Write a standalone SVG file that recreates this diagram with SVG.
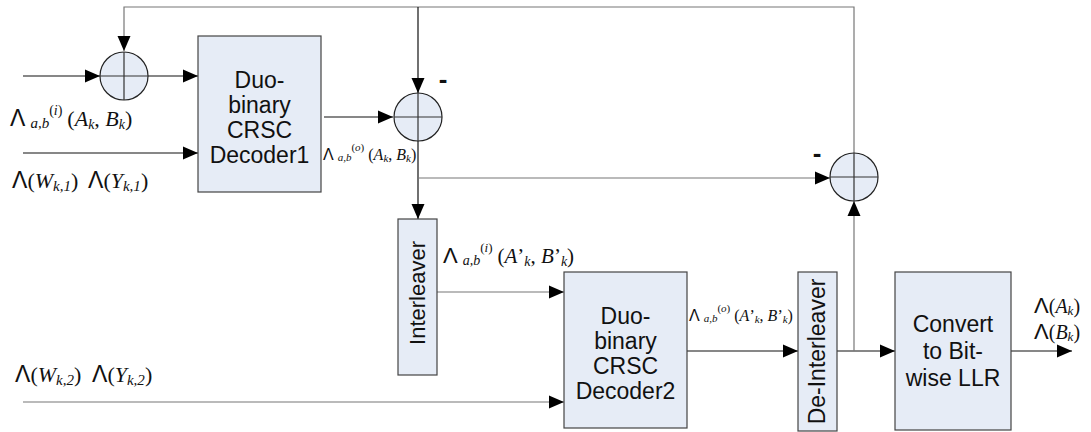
<svg xmlns="http://www.w3.org/2000/svg" width="1091" height="432" viewBox="0 0 1091 432">
<style>
.box{fill:#e6ecf6;stroke:#444;stroke-width:1.2}
.sum{fill:#e6ecf6;stroke:#222;stroke-width:1.2}
.cross{stroke:#333;stroke-width:1.2}
.t{font-family:"Liberation Sans",Arial,sans-serif;font-size:23px;fill:#111;text-anchor:middle}
.c{fill:none;stroke:#111;stroke-width:1.2}
.g{stroke:#777}
.m{font-family:"Liberation Serif","Times New Roman",serif;fill:#111}
.L{font-family:"Liberation Sans",Arial,sans-serif}
.i{font-style:italic}
.minus{font-family:"Liberation Sans",Arial,sans-serif;font-weight:bold;font-size:26px;fill:#111;text-anchor:middle}
</style>
<defs>
<marker id="ar" markerUnits="userSpaceOnUse" markerWidth="16" markerHeight="14" refX="15" refY="7" orient="auto">
<path d="M0,0.5 L15,7 L0,13.5 Z" fill="#000"/>
</marker>
</defs>
<rect width="1091" height="432" fill="#fff"/>

<g id="connectors">
<path class="c g" d="M854,153 V7 H124 V51" marker-end="url(#ar)"/>
<path class="c" d="M418,7 V93" marker-end="url(#ar)"/>
<path class="c" d="M23,76 H100" marker-end="url(#ar)"/>
<path class="c" d="M148,76 H198" marker-end="url(#ar)"/>
<path class="c" d="M23,153 H198" marker-end="url(#ar)"/>
<path class="c" d="M324,117 H393" marker-end="url(#ar)"/>
<path class="c" d="M418,141 V219" marker-end="url(#ar)"/>
<path class="c g" d="M418,178 H830" marker-end="url(#ar)"/>
<path class="c g" d="M437,292 H564" marker-end="url(#ar)"/>
<path class="c g" d="M23,402 H564" marker-end="url(#ar)"/>
<path class="c" d="M687,351 H798" marker-end="url(#ar)"/>
<path class="c" d="M837,351 H895" marker-end="url(#ar)"/>
<path class="c g" d="M854,351 V201" marker-end="url(#ar)"/>
<path class="c" d="M1011,351 H1072" marker-end="url(#ar)"/>
</g>

<g id="sum1">
<circle class="sum" cx="124" cy="76" r="24"/>
<path class="cross" d="M100,76 H148 M124,52 V100"/>
</g>
<g id="sum2">
<circle class="sum" cx="418" cy="117" r="24"/>
<path class="cross" d="M394,117 H442 M418,93 V141"/>
<text class="minus" x="443" y="88">-</text>
</g>
<g id="sum3">
<circle class="sum" cx="854" cy="177" r="24"/>
<path class="cross" d="M830,177 H878 M854,153 V201"/>
<text class="minus" x="817" y="162">-</text>
</g>

<g id="decoder1">
<rect class="box" x="198" y="36" width="123" height="156"/>
<text class="t" x="259.5" y="88">Duo-</text>
<text class="t" x="259.5" y="113">binary</text>
<text class="t" x="259.5" y="138">CRSC</text>
<text class="t" x="259.5" y="163">Decoder1</text>
</g>

<g id="interleaver">
<rect class="box" x="398" y="219" width="39" height="156"/>
<text class="t" transform="translate(425,293) rotate(-90)" style="font-size:22px">Interleaver</text>
</g>

<g id="decoder2">
<rect class="box" x="564" y="272" width="123" height="156"/>
<text class="t" x="625.5" y="324">Duo-</text>
<text class="t" x="625.5" y="349">binary</text>
<text class="t" x="625.5" y="374">CRSC</text>
<text class="t" x="625.5" y="399">Decoder2</text>
</g>

<g id="deinterleaver">
<rect class="box" x="798" y="272" width="39" height="159"/>
<text class="t" transform="translate(825,351.5) rotate(-90)">De-Interleaver</text>
</g>

<g id="convert">
<rect class="box" x="895" y="272" width="116" height="158"/>
<text class="t" x="953" y="332">Convert</text>
<text class="t" x="953" y="359">to Bit-</text>
<text class="t" x="953" y="386">wise LLR</text>
</g>

<g id="labels">
<text class="m" x="10" y="126" font-size="22"><tspan class="L" font-size="23">Λ</tspan><tspan class="i" font-size="15" dx="5" dy="2">a,b</tspan><tspan font-size="14" dy="-13">(<tspan class="i">i</tspan>)</tspan><tspan dx="5" dy="11">(</tspan><tspan class="i">A</tspan><tspan class="i" font-size="14" dy="3">k</tspan><tspan dy="-3">, </tspan><tspan class="i">B</tspan><tspan class="i" font-size="14" dy="3">k</tspan><tspan dy="-3">)</tspan></text>

<text class="m" x="12" y="188" font-size="22"><tspan class="L" font-size="23">Λ</tspan>(<tspan class="i">W</tspan><tspan class="i" font-size="15" dy="3">k,1</tspan><tspan dy="-3">)</tspan></text>
<text class="m" x="88" y="188" font-size="22"><tspan class="L" font-size="23">Λ</tspan>(<tspan class="i">Y</tspan><tspan class="i" font-size="15" dy="3">k,1</tspan><tspan dy="-3">)</tspan></text>

<text class="m" x="323" y="160" font-size="16"><tspan class="L" font-size="16">Λ</tspan><tspan class="i" font-size="11" dx="4" dy="1">a,b</tspan><tspan font-size="11" dy="-10">(<tspan class="i">o</tspan>)</tspan><tspan dx="4" dy="9">(</tspan><tspan class="i">A</tspan><tspan class="i" font-size="11" dy="2">k</tspan><tspan dy="-2">, </tspan><tspan class="i">B</tspan><tspan class="i" font-size="11" dy="2">k</tspan><tspan dy="-2">)</tspan></text>

<text class="m" x="443" y="263" font-size="21"><tspan class="L" font-size="22">Λ</tspan><tspan class="i" font-size="14" dx="5" dy="2">a,b</tspan><tspan font-size="13" dy="-13">(<tspan class="i">i</tspan>)</tspan><tspan dx="5" dy="11">(</tspan><tspan class="i">A</tspan>’<tspan class="i" font-size="14" dy="3">k</tspan><tspan dy="-3">, </tspan><tspan class="i">B</tspan>’<tspan class="i" font-size="14" dy="3">k</tspan><tspan dy="-3">)</tspan></text>

<text class="m" x="689" y="321" font-size="16"><tspan class="L" font-size="16">Λ</tspan><tspan class="i" font-size="11" dx="4" dy="1">a,b</tspan><tspan font-size="11" dy="-10">(<tspan class="i">o</tspan>)</tspan><tspan dx="4" dy="9">(</tspan><tspan class="i">A</tspan>’<tspan class="i" font-size="11" dy="2">k</tspan><tspan dy="-2">, </tspan><tspan class="i">B</tspan>’<tspan class="i" font-size="11" dy="2">k</tspan><tspan dy="-2">)</tspan></text>

<text class="m" x="15" y="382" font-size="22"><tspan class="L" font-size="23">Λ</tspan>(<tspan class="i">W</tspan><tspan class="i" font-size="15" dy="3">k,2</tspan><tspan dy="-3">)</tspan></text>
<text class="m" x="92" y="382" font-size="22"><tspan class="L" font-size="23">Λ</tspan>(<tspan class="i">Y</tspan><tspan class="i" font-size="15" dy="3">k,2</tspan><tspan dy="-3">)</tspan></text>

<text class="m" x="1034" y="313" font-size="20"><tspan class="L" font-size="22">Λ</tspan>(<tspan class="i">A</tspan><tspan class="i" font-size="13" dy="2">k</tspan><tspan dy="-2">)</tspan></text>
<text class="m" x="1034" y="339" font-size="20"><tspan class="L" font-size="22">Λ</tspan>(<tspan class="i">B</tspan><tspan class="i" font-size="13" dy="2">k</tspan><tspan dy="-2">)</tspan></text>
</g>
</svg>
